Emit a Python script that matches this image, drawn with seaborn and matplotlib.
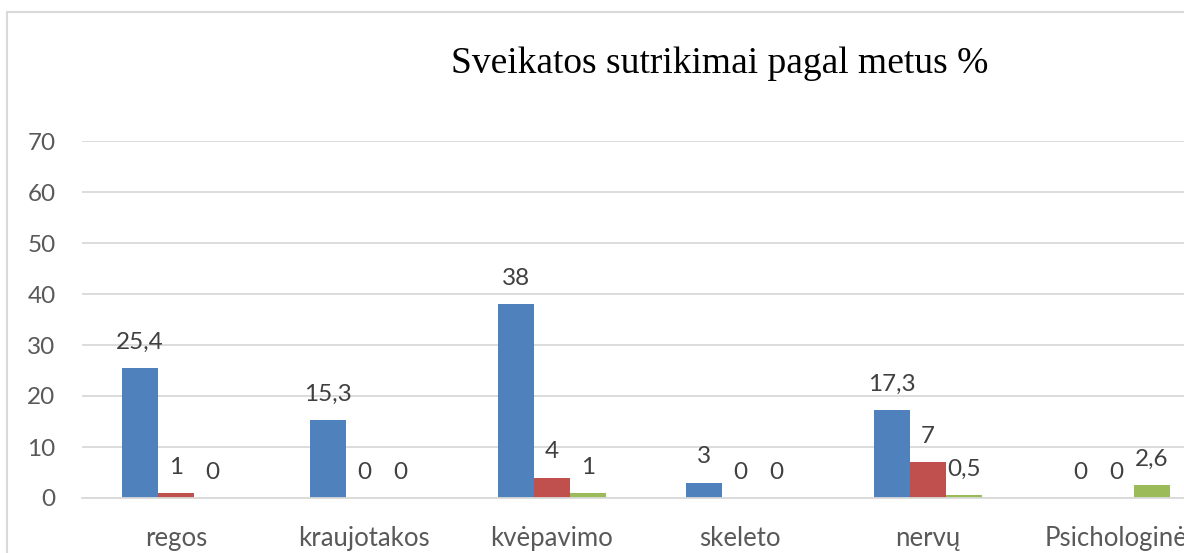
import matplotlib
matplotlib.use("Agg")
import matplotlib.pyplot as plt
import seaborn as sns
import pandas as pd
from matplotlib.patches import Rectangle

categories = ["regos", "kraujotakos", "kvėpavimo", "skeleto", "nervų", "Psichologinė"]
series_names = ["Series1", "Series2", "Series3"]
series1 = [25.4, 15.3, 38, 3, 17.3, 0]
series2 = [1, 0, 4, 0, 7, 0]
series3 = [0, 0, 1, 0, 0.5, 2.6]
yticks = [0, 10, 20, 30, 40, 50, 60, 70]
title = "Sveikatos sutrikimai pagal metus %"
colors = ["#4F81BD", "#C0504D", "#9BBB59"]

rows = []
for name, vals in zip(series_names, [series1, series2, series3]):
    for c, v in zip(categories, vals):
        rows.append({"category": c, "series": name, "value": v})
df = pd.DataFrame(rows)

sns.set_theme(style="white")
plt.rcParams['font.family'] = ['Lato', 'DejaVu Sans']

W, H = 1184, 553
fig = plt.figure(figsize=(W / 100, H / 100), dpi=100)
ax = fig.add_axes([82 / W, 55 / H, 1128 / W, (498 - 141) / H])

sns.barplot(data=df, x="category", y="value", hue="series", order=categories,
            hue_order=series_names, palette=colors, width=0.574, ax=ax,
            legend=False, saturation=1, edgecolor="none", linewidth=0)

ax.set_ylim(0, 70)
ax.set_xlim(-0.5, len(categories) - 0.5)
ax.set_yticks(yticks)
ax.yaxis.grid(True, color="#D9D9D9", linewidth=1.3)
ax.set_axisbelow(True)
for s in ["top", "right", "left"]:
    ax.spines[s].set_visible(False)
ax.spines["bottom"].set_color("#D9D9D9")
ax.spines["bottom"].set_linewidth(1.3)
ax.tick_params(axis="both", length=0, labelsize=17.5, colors="#595959")
ax.tick_params(axis="x", labelsize=18.5)
ax.tick_params(axis="y", pad=19)
ax.tick_params(axis="x", pad=20)
ax.set_xlabel("")
ax.set_ylabel("")

for cont in ax.containers:
    ax.bar_label(cont, labels=[f"{b.get_height():g}".replace(".", ",") for b in cont],
                 padding=11, fontsize=17.5, color="#404040")

fig.text(720 / W, 1 - 64 / H, title, ha="center", va="center",
         fontsize=27, family="Liberation Serif", color="black")

fig.add_artist(Rectangle((7 / W, -0.1), 1.2, 1.1 - 12 / H, transform=fig.transFigure,
                         fill=False, edgecolor="#D9D9D9", linewidth=1.5, clip_on=False))

fig.savefig("out.png", dpi=100)
